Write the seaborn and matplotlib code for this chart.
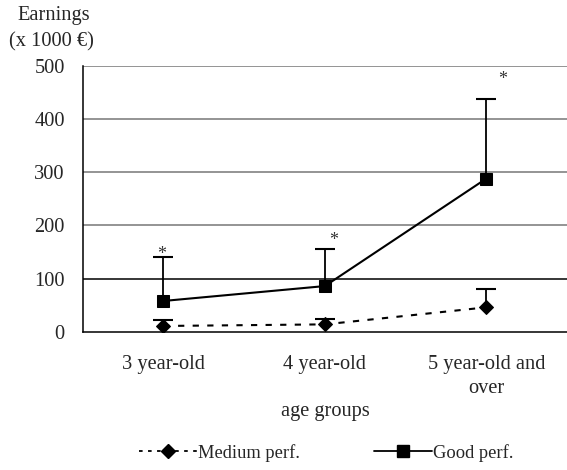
import matplotlib
matplotlib.use("Agg")
import matplotlib.pyplot as plt
import seaborn as sns
import pandas as pd
import numpy as np
from matplotlib.lines import Line2D

categories = ["3 year-old", "4 year-old", "5 year-old and\nover"]
good_perf = [58, 86, 288]
good_err_top = [140, 155, 437]
medium_perf = [11, 14, 46]
medium_err_top = [23, 24, 80]
y_ticks = [0, 100, 200, 300, 400, 500]
significant = [True, True, True]

sns.set_theme(style="white")
plt.rcParams['font.family'] = ['Liberation Serif', 'DejaVu Serif']
FS = 14.7

fig = plt.figure(figsize=(5.67, 4.70), dpi=100)
ax = fig.add_axes([0.146, 0.294, 0.854, 0.566])

x = np.arange(len(categories))
df = pd.DataFrame({
    "x": np.concatenate([x, x]),
    "value": medium_perf + good_perf,
    "series": ["Medium perf."] * 3 + ["Good perf."] * 3,
})

for yv in y_ticks[1:]:
    ax.axhline(yv, color="black" if yv == 100 else "#777777", lw=1.1, zorder=0)

# error bars (upper only, cap on top)
for vals, tops in [(good_perf, good_err_top), (medium_perf, medium_err_top)]:
    ax.vlines(x, vals, tops, color="black", lw=1.3, zorder=2)
    ax.plot(x, tops, linestyle="none", marker="_", markersize=14, markeredgewidth=1.5,
            color="black", zorder=2)

sns.lineplot(data=df[df.series == "Good perf."], x="x", y="value", ax=ax, color="black",
             marker="s", markersize=9, lw=1.5, markeredgecolor="black", legend=False, zorder=3)
sns.lineplot(data=df[df.series == "Medium perf."], x="x", y="value", ax=ax, color="black",
             marker="D", markersize=7, lw=1.5, linestyle=(0, (3, 4)), markeredgecolor="black",
             legend=False, zorder=3)

# asterisks
offsets = [(-1, -4), (6, 0), (12, 8)]
for i, sig in enumerate(significant):
    if sig:
        ax.annotate("*", (x[i], good_err_top[i]), xytext=offsets[i], textcoords="offset points",
                    ha="center", va="bottom", fontsize=13, color="#333333")

ax.set_xlim(-0.5, 2.5)
ax.set_ylim(0, 500)
ax.set_yticks(y_ticks)
ax.set_yticklabels([str(v) for v in y_ticks], fontsize=FS)
ax.set_xticks(x)
ax.set_xticklabels(categories, fontsize=FS, linespacing=1.35)
ax.set_xticks([-0.5, 0.5, 1.5, 2.5], minor=True)
ax.tick_params(axis="x", which="major", length=0, pad=17)
ax.tick_params(axis="x", which="minor", length=6, width=1, color="black", direction="out")
ax.tick_params(axis="y", length=5, width=1, color="black", direction="out", pad=8)
for s in ["top", "right"]:
    ax.spines[s].set_visible(False)
for s in ["left", "bottom"]:
    ax.spines[s].set_color("black")
    ax.spines[s].set_linewidth(1.1)
ax.set_xlabel("age groups", fontsize=FS, labelpad=3)
ax.set_ylabel("")

fig.text(0.03, 0.968, "Earnings", fontsize=FS, ha="left", va="center")
fig.text(0.016, 0.910, "(x 1000 €)", fontsize=FS, ha="left", va="center")

handles = [
    Line2D([0], [0], color="black", lw=1.3, linestyle=(0, (2, 3)), marker="D", markersize=7),
    Line2D([0], [0], color="black", lw=1.3, marker="s", markersize=8),
]
fig.legend(handles, ["Medium perf.", "Good perf."], loc="center", bbox_to_anchor=(0.575, 0.037),
           ncol=2, frameon=False, fontsize=13.3, handlelength=3.15, handletextpad=0.05,
           columnspacing=4.0)

fig.savefig("out.png", dpi=100)
